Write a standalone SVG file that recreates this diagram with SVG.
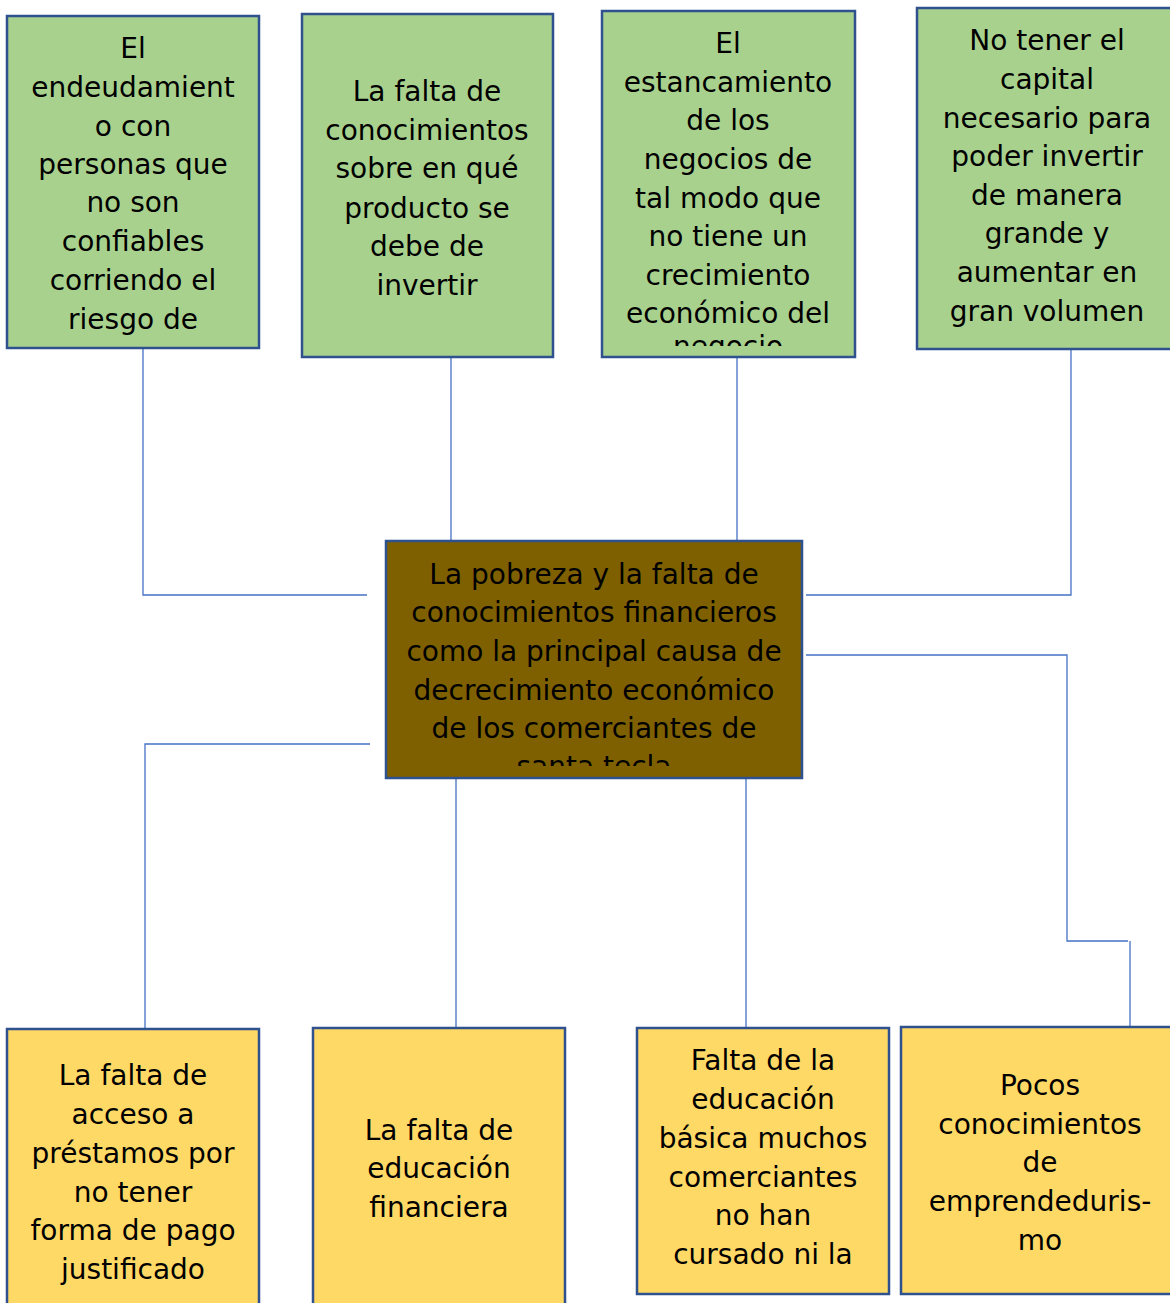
<svg xmlns="http://www.w3.org/2000/svg" width="1170" height="1303" viewBox="0 0 1170 1303">
<style>
.g{fill:#a9d18e;stroke:#2f528f;stroke-width:2.5}
.y{fill:#ffd966;stroke:#2f528f;stroke-width:2.5}
.c{fill:#7f6000;stroke:#2f528f;stroke-width:2.5}
text{font-family:"DejaVu Sans","Verdana",sans-serif;font-size:28px;fill:#000;text-anchor:middle}
.ln{fill:none;stroke:#4472c4;stroke-width:1.3}
</style>
<defs>
<clipPath id="c3"><rect x="603" y="12" width="251" height="334"/></clipPath>
<clipPath id="cc"><rect x="387" y="542" width="414" height="224"/></clipPath>
</defs>
<rect width="1170" height="1303" fill="#fff"/>
<g id="connectors">
<polyline class="ln" points="143,348 143,595 367,595"/>
<line class="ln" x1="451" y1="357" x2="451" y2="541"/>
<line class="ln" x1="737" y1="357" x2="737" y2="541"/>
<polyline class="ln" points="1071,349 1071,595 806,595"/>
<polyline class="ln" points="806,655 1067,655 1067,941 1128,941"/>
<line class="ln" x1="1130" y1="941" x2="1130" y2="1027"/>
<polyline class="ln" points="370,744 145,744 145,1029"/>
<line class="ln" x1="456" y1="778" x2="456" y2="1028"/>
<line class="ln" x1="746" y1="778" x2="746" y2="1028"/>
</g>
<g id="n1">
<rect class="g" x="7" y="16" width="252" height="332"/>
<text x="133" y="58">El</text>
<text x="133" y="97">endeudamient</text>
<text x="133" y="136">o con</text>
<text x="133" y="174">personas que</text>
<text x="133" y="212">no son</text>
<text x="133" y="251">confiables</text>
<text x="133" y="290">corriendo el</text>
<text x="133" y="329">riesgo de</text>
</g>
<g id="n2">
<rect class="g" x="302" y="14" width="251" height="343"/>
<text x="427" y="101">La falta de</text>
<text x="427" y="140">conocimientos</text>
<text x="427" y="178">sobre en qué</text>
<text x="427" y="218">producto se</text>
<text x="427" y="256">debe de</text>
<text x="427" y="295">invertir</text>
</g>
<g id="n3">
<rect class="g" x="602" y="11" width="253" height="346"/>
<g clip-path="url(#c3)">
<text x="728" y="53">El</text>
<text x="728" y="92">estancamiento</text>
<text x="728" y="130">de los</text>
<text x="728" y="169">negocios de</text>
<text x="728" y="208">tal modo que</text>
<text x="728" y="246">no tiene un</text>
<text x="728" y="285">crecimiento</text>
<text x="728" y="323">económico del</text>
<text x="728" y="356">negocio</text>
</g>
</g>
<g id="n4">
<rect class="g" x="917" y="8" width="256" height="341"/>
<text x="1047" y="50">No tener el</text>
<text x="1047" y="89">capital</text>
<text x="1047" y="128">necesario para</text>
<text x="1047" y="166">poder invertir</text>
<text x="1047" y="205">de manera</text>
<text x="1047" y="243">grande y</text>
<text x="1047" y="282">aumentar en</text>
<text x="1047" y="321">gran volumen</text>
</g>
<g id="center">
<rect class="c" x="386" y="541" width="416" height="237"/>
<g clip-path="url(#cc)">
<text x="594" y="584">La pobreza y la falta de</text>
<text x="594" y="622">conocimientos financieros</text>
<text x="594" y="661">como la principal causa de</text>
<text x="594" y="700">decrecimiento económico</text>
<text x="594" y="738">de los comerciantes de</text>
<text x="594" y="776">santa tecla</text>
</g>
</g>
<g id="b1">
<rect class="y" x="7" y="1029" width="252" height="280"/>
<text x="133" y="1085">La falta de</text>
<text x="133" y="1124">acceso a</text>
<text x="133" y="1163">préstamos por</text>
<text x="133" y="1202">no tener</text>
<text x="133" y="1240">forma de pago</text>
<text x="133" y="1279">justificado</text>
</g>
<g id="b2">
<rect class="y" x="313" y="1028" width="252" height="280"/>
<text x="439" y="1140">La falta de</text>
<text x="439" y="1178">educación</text>
<text x="439" y="1217">financiera</text>
</g>
<g id="b3">
<rect class="y" x="637" y="1028" width="252" height="266"/>
<text x="763" y="1070">Falta de la</text>
<text x="763" y="1109">educación</text>
<text x="763" y="1148">básica muchos</text>
<text x="763" y="1187">comerciantes</text>
<text x="763" y="1225">no han</text>
<text x="763" y="1264">cursado ni la</text>
</g>
<g id="b4">
<rect class="y" x="901" y="1027" width="272" height="267"/>
<text x="1040" y="1095">Pocos</text>
<text x="1040" y="1134">conocimientos</text>
<text x="1040" y="1172">de</text>
<text x="1040" y="1211">emprendeduris-</text>
<text x="1040" y="1250">mo</text>
</g>
</svg>
